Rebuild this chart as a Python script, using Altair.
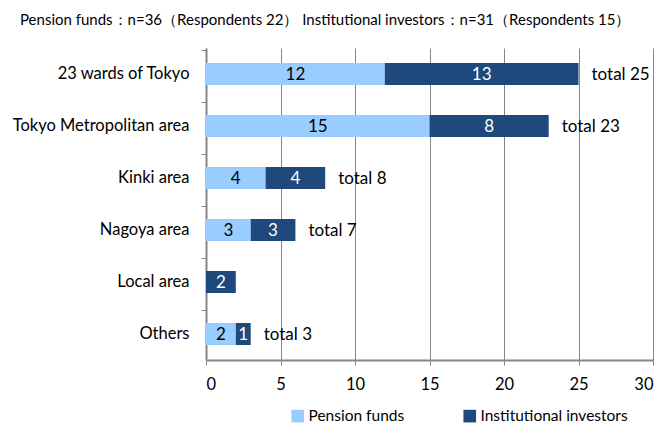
import altair as alt
import pandas as pd

categories = ["23 wards of Tokyo", "Tokyo Metropolitan area", "Kinki area",
              "Nagoya area", "Local area", "Others"]
pension = [12, 15, 4, 3, 0, 2]
institutional = [13, 8, 4, 3, 2, 1]
total_labels = ["total 25", "total 23", "total 8", "total 7", "", "total 3"]
series = ["Pension funds", "Institutional investors"]
colors = ["#99CCFF", "#1F497D"]
text_colors = ["#000000", "#FFFFFF"]
x_ticks = [0, 5, 10, 15, 20, 25, 30]
header = "Pension funds：n=36（Respondents 22）    Institutional investors：n=31（Respondents 15）"

FONT = "Lato"

rows = []
for i, c in enumerate(categories):
    for j, (s, vals) in enumerate(zip(series, [pension, institutional])):
        rows.append({"category": c, "series": s, "value": vals[i],
                     "order": j, "tcolor": text_colors[j]})
df = pd.DataFrame(rows)

tot = pd.DataFrame({"category": categories,
                    "sum": [p + q for p, q in zip(pension, institutional)],
                    "label": total_labels})

ysc = alt.Y("category:N", sort=categories, title=None,
            axis=alt.Axis(bandPosition=0, labelFont=FONT, labelFontSize=16.5,
                          labelColor="black", labelPadding=12, tickSize=5,
                          tickColor="#868686", domainColor="#868686",
                          domainWidth=2, grid=False))

bars = alt.Chart(df).mark_bar(size=22).encode(
    x=alt.X("value:Q", stack="zero", title=None,
            scale=alt.Scale(domain=[0, 30], nice=False),
            axis=alt.Axis(values=x_ticks, labelFont=FONT, labelFontSize=16.5,
                          labelColor="black", labelPadding=11, tickSize=5,
                          labelFlush=True, labelFlushOffset=0,
                          tickColor="#868686", domainColor="#868686",
                          domainWidth=2, grid=True, gridColor="#868686",
                          gridWidth=1, gridOpacity=1)),
    y=ysc,
    color=alt.Color("series:N", scale=alt.Scale(domain=series, range=colors),
                    legend=alt.Legend(title=None, orient="none", direction="horizontal",
                                      legendX=84, legendY=360, symbolType="square",
                                      symbolSize=160, symbolStrokeWidth=0,
                                      labelFont=FONT, labelFontSize=15.5,
                                      labelColor="black", columnPadding=57,
                                      labelOffset=3)),
    order=alt.Order("order:Q"),
)

seg_text = alt.Chart(df).transform_stack(
    stack="value", groupby=["category"], as_=["x0", "x1"],
    sort=[alt.SortField("order")]
).transform_calculate(mid="(datum.x0 + datum.x1) / 2").transform_filter(
    "datum.value > 0"
).mark_text(font=FONT, fontSize=17, baseline="middle", dy=1).encode(
    x="mid:Q", y=alt.Y("category:N", sort=categories),
    text="value:Q", color=alt.Color("tcolor:N", scale=None),
)

tot_text = alt.Chart(tot).transform_filter("datum.label != ''").mark_text(
    font=FONT, fontSize=17, align="left", dx=13, baseline="middle", dy=1,
    color="black"
).encode(x="sum:Q", y=alt.Y("category:N", sort=categories), text="label:N")

chart = alt.layer(bars, seg_text, tot_text).properties(
    width=447, height=312,
    padding={"left": 198, "top": 40, "right": 3, "bottom": 63},
    autosize=alt.AutoSizeParams(type="none"),
    title=alt.TitleParams(header, anchor="start", frame="group", dx=-186,
                          offset=20, font=FONT, fontSize=15, fontWeight="normal",
                          color="black"),
).configure_view(stroke=None)

chart.save("out.html", embed_options={"renderer": "svg", "actions": False})
